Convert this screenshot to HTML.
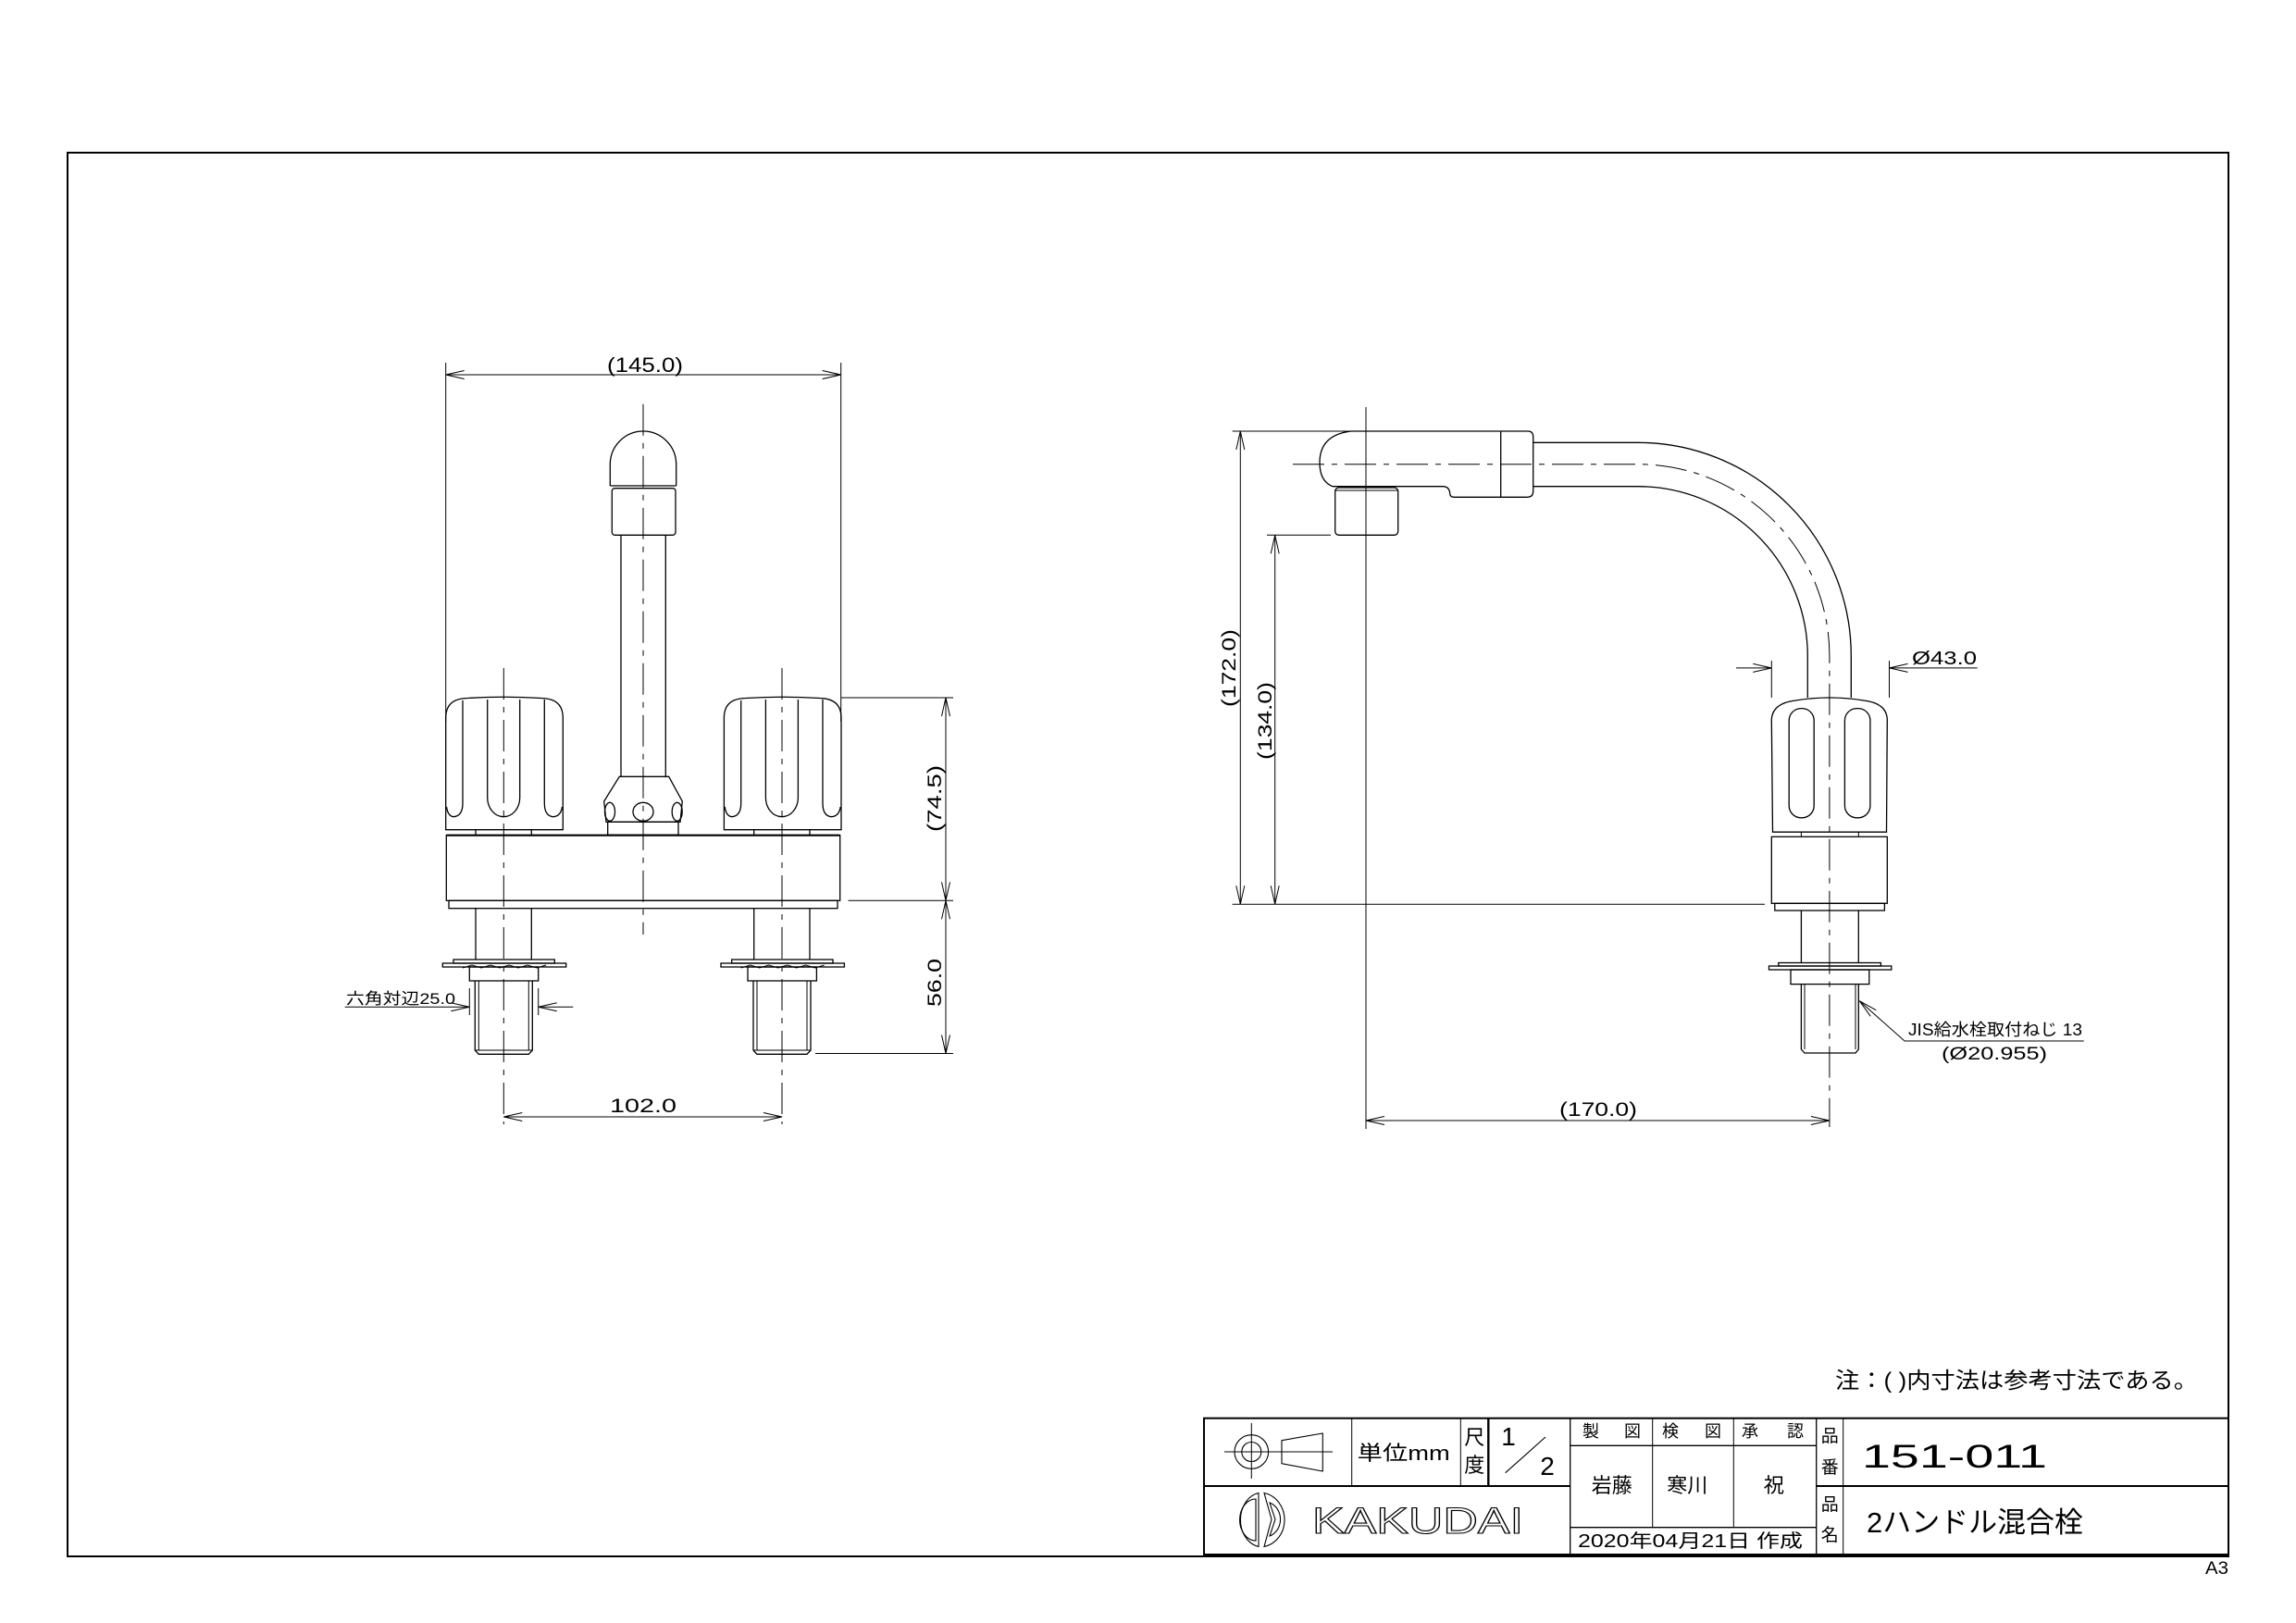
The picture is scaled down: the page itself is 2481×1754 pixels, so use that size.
<!DOCTYPE html>
<html><head><meta charset="utf-8"><style>
html,body{margin:0;padding:0;background:#fff;}
svg{display:block;}
text{font-family:"Liberation Sans","Noto Sans CJK JP",sans-serif;fill:#000;}
</style></head><body>
<svg width="2481" height="1754" viewBox="0 0 2481 1754" xmlns="http://www.w3.org/2000/svg">
<defs>
<marker id="a" markerUnits="userSpaceOnUse" markerWidth="40" markerHeight="20" viewBox="-22 -10 24 20" refX="0" refY="0" orient="auto-start-reverse">
<path d="M-20,-4.5 L0,0 L-20,4.5" fill="none" stroke="#000" stroke-width="1"/>
</marker>
</defs>
<g fill="none" stroke="#000" stroke-width="1.3">
<rect x="73" y="165" width="2335" height="1517" stroke-width="2"/>

<!-- FRONT VIEW -->
<line x1="481.7" y1="405" x2="908.7" y2="405" marker-start="url(#a)" marker-end="url(#a)" stroke-width="1"/>
<line x1="481.7" y1="392" x2="481.7" y2="780" stroke-width="1"/>
<line x1="908.7" y1="392" x2="908.7" y2="780" stroke-width="1"/>
<line x1="695" y1="436.7" x2="695" y2="1010" stroke-width="1" stroke-dasharray="34 8 6 8"/>
<path d="M659.3,525 L659.3,502 A35.7,36 0 0 1 730.7,502 L730.7,525"/>
<line x1="659.3" y1="525" x2="730.7" y2="525"/>
<rect x="661.3" y="527.7" width="68.7" height="50.6" rx="3"/>
<line x1="671" y1="578.3" x2="671" y2="839.3"/>
<line x1="719.3" y1="578.3" x2="719.3" y2="839.3"/>
<path d="M669.3,839.3 L722.7,839.3 L737.3,866 L735,888.3 L655,888.3 L652.7,866 Z"/>
<ellipse cx="695" cy="877.3" rx="11" ry="10"/>
<ellipse cx="659" cy="877.3" rx="5.5" ry="10"/>
<ellipse cx="731.7" cy="877.3" rx="5.5" ry="10"/>
<rect x="656.7" y="888.3" width="76.3" height="14"/>
<g id="knob">
<path d="M481.7,896.7 L481.7,775 Q482,755 505,754.5 Q545,752 585,754.5 Q608,755 608.3,775 L608.3,896.7 Z"/>
<path d="M500,757 L500,868 Q500,882 490,882.7 Q484,882 482.5,872"/>
<path d="M526.7,756 L526.7,862 A17.5,20.7 0 0 0 561.7,862 L561.7,756"/>
<path d="M588.3,756 L588.3,868 Q588.3,882 598,882.7 Q606,882 607.5,872"/>
<line x1="514" y1="896.7" x2="514" y2="902.7"/>
<line x1="574.3" y1="896.7" x2="574.3" y2="902.7"/>
</g>
<use href="#knob" transform="translate(300.7,0)"/>
<rect x="482.3" y="902.7" width="425.4" height="70.6"/>
<line x1="482.3" y1="902.7" x2="907.7" y2="902.7" stroke-width="2.2"/>
<rect x="485" y="973.3" width="420" height="8.4"/>
<g id="shank">
<line x1="514" y1="981.7" x2="514" y2="1037"/>
<line x1="574.3" y1="981.7" x2="574.3" y2="1037"/>
<rect x="490" y="1037" width="109.3" height="4"/>
<rect x="478.3" y="1041" width="133.4" height="4"/>
<path d="M500,1046 L510,1043 L520,1046 L530,1043 L540,1046 L550,1043 L560,1046 L570,1043 L580,1046 L590,1043" stroke-width="1"/>
<rect x="507.3" y="1045" width="74.4" height="15"/>
<path d="M513.3,1060 L513.3,1135 L517.3,1139.3 L571.3,1139.3 L575.3,1135 L575.3,1060"/>
<line x1="517.3" y1="1060" x2="517.3" y2="1135" stroke-width="1"/>
<line x1="571.3" y1="1060" x2="571.3" y2="1135" stroke-width="1"/>
<line x1="513.3" y1="1135" x2="575.3" y2="1135" stroke-width="1"/>
</g>
<use href="#shank" transform="translate(300.7,0)"/>
<line x1="544.3" y1="722" x2="544.3" y2="1215" stroke-width="1" stroke-dasharray="34 8 6 8"/>
<line x1="845" y1="722" x2="845" y2="1215" stroke-width="1" stroke-dasharray="34 8 6 8"/>
<line x1="544.3" y1="1207" x2="845" y2="1207" marker-start="url(#a)" marker-end="url(#a)" stroke-width="1"/>
<line x1="372.7" y1="1088.3" x2="507.3" y2="1088.3" marker-end="url(#a)" stroke-width="1"/>
<line x1="619.3" y1="1088.3" x2="581.7" y2="1088.3" marker-end="url(#a)" stroke-width="1"/>
<line x1="507.3" y1="1068" x2="507.3" y2="1097" stroke-width="1"/>
<line x1="581.7" y1="1068" x2="581.7" y2="1097" stroke-width="1"/>
<line x1="908.7" y1="754" x2="1030" y2="754" stroke-width="1"/>
<line x1="916.5" y1="973.3" x2="1030" y2="973.3" stroke-width="1"/>
<line x1="881" y1="1138.5" x2="1030" y2="1138.5" stroke-width="1"/>
<line x1="1022" y1="754" x2="1022" y2="973.3" marker-start="url(#a)" marker-end="url(#a)" stroke-width="1"/>
<line x1="1022" y1="973.3" x2="1022" y2="1138.5" marker-start="url(#a)" marker-end="url(#a)" stroke-width="1"/>

<!-- SIDE VIEW -->
<line x1="1476" y1="440" x2="1476" y2="1220" stroke-width="1"/>
<path d="M1460,466 L1651,466 Q1656.7,466 1656.7,472 L1656.7,531 Q1656.7,537.3 1650,537.3 L1571,537.3 Q1566.7,537.3 1566.7,533 Q1566,525.7 1559,525.7 L1440,525.7 Q1426,520 1426,500 Q1426,470 1460,466 Z"/>
<line x1="1621.7" y1="466" x2="1621.7" y2="537.3"/>
<rect x="1442.7" y="527" width="68" height="51.3" rx="4"/>
<line x1="1442.7" y1="530" x2="1510.7" y2="530" stroke-width="1"/>
<path d="M1656.7,478.3 L1769.9,478.3 A230.4,230.4 0 0 1 2000.3,708.7 L2000.3,754"/>
<path d="M1656.7,525.7 L1769.9,525.7 A183.4,183.4 0 0 1 1953.3,709.1 L1953.3,754"/>
<path d="M1397,501.7 L1769.9,501.7 A207,207 0 0 1 1976.9,708.7 L1976.9,1218" stroke-width="1" stroke-dasharray="34 8 6 8"/>
<path d="M1915.5,899.2 L1914.3,778 Q1915,760 1940,757 Q1977,751 2014,757 Q2039,760 2039.3,778 L2038.5,899.2 Z"/>
<rect x="1933.2" y="765.6" width="27" height="118.2" rx="13"/>
<rect x="1993.4" y="765.6" width="27.5" height="118.2" rx="13"/>
<line x1="1946.4" y1="899.2" x2="1946.4" y2="904.3" stroke-width="1"/>
<line x1="2008.3" y1="899.2" x2="2008.3" y2="904.3" stroke-width="1"/>
<rect x="1914.3" y="904.3" width="125" height="72"/>
<rect x="1917.8" y="976.3" width="118.6" height="7.7"/>
<line x1="1946.4" y1="984" x2="1946.4" y2="1040.5"/>
<line x1="2008.3" y1="984" x2="2008.3" y2="1040.5"/>
<rect x="1921.8" y="1040.5" width="110.6" height="3.5"/>
<rect x="1911.5" y="1044" width="132.3" height="4"/>
<rect x="1935" y="1048" width="84.8" height="15.6"/>
<path d="M1946.4,1063.6 L1946.4,1134 L1950,1138 L2005,1138 L2008.3,1134 L2008.3,1063.6"/>
<line x1="1950" y1="1063.6" x2="1950" y2="1134" stroke-width="1"/>
<line x1="2005" y1="1063.6" x2="2005" y2="1134" stroke-width="1"/>
<line x1="1331.7" y1="466" x2="1460" y2="466" stroke-width="1"/>
<line x1="1340.3" y1="466" x2="1340.3" y2="977.2" marker-start="url(#a)" marker-end="url(#a)" stroke-width="1"/>
<line x1="1369" y1="578.3" x2="1438" y2="578.3" stroke-width="1"/>
<line x1="1377.7" y1="578.3" x2="1377.7" y2="977.2" marker-start="url(#a)" marker-end="url(#a)" stroke-width="1"/>
<line x1="1331.7" y1="977.2" x2="1907" y2="977.2" stroke-width="1"/>
<line x1="1876" y1="721.9" x2="1914.3" y2="721.9" marker-end="url(#a)" stroke-width="1"/>
<line x1="2136.7" y1="721.9" x2="2041.5" y2="721.9" marker-end="url(#a)" stroke-width="1"/>
<line x1="1914.3" y1="714" x2="1914.3" y2="754" stroke-width="1"/>
<line x1="2041.5" y1="714" x2="2041.5" y2="754" stroke-width="1"/>
<path d="M2058,1125 L2009.3,1081.7" marker-end="url(#a)" stroke-width="1"/>
<line x1="2058" y1="1125" x2="2251.7" y2="1125" stroke-width="1"/>
<line x1="1476" y1="1211" x2="1976.9" y2="1211" marker-start="url(#a)" marker-end="url(#a)" stroke-width="1"/>

<!-- TITLE BLOCK -->
<rect x="1301" y="1532.7" width="1107" height="147.3" stroke-width="2"/>
<line x1="1301" y1="1606" x2="1696.7" y2="1606" stroke-width="2"/>
<line x1="1962.7" y1="1606" x2="2408" y2="1606" stroke-width="2"/>
<line x1="1460.7" y1="1532.7" x2="1460.7" y2="1606" stroke-width="1"/>
<line x1="1578.3" y1="1532.7" x2="1578.3" y2="1606" stroke-width="1"/>
<line x1="1608.3" y1="1532.7" x2="1608.3" y2="1606" stroke-width="2.4"/>
<line x1="1696.7" y1="1532.7" x2="1696.7" y2="1680" stroke-width="1.3"/>
<line x1="1785.7" y1="1532.7" x2="1785.7" y2="1650.7" stroke-width="1"/>
<line x1="1873.3" y1="1532.7" x2="1873.3" y2="1650.7" stroke-width="1"/>
<line x1="1962.7" y1="1532.7" x2="1962.7" y2="1680" stroke-width="1.3"/>
<line x1="1991.7" y1="1532.7" x2="1991.7" y2="1680" stroke-width="1"/>
<line x1="1696.7" y1="1562.3" x2="1962.7" y2="1562.3" stroke-width="1.3"/>
<line x1="1696.7" y1="1650.7" x2="1962.7" y2="1650.7" stroke-width="1.3"/>
<circle cx="1352.3" cy="1569" r="18.3" stroke-width="1.1"/>
<circle cx="1352.3" cy="1569" r="10.5" stroke-width="1.1"/>
<line x1="1323" y1="1569" x2="1380" y2="1569" stroke-width="1"/>
<line x1="1352.3" y1="1538" x2="1352.3" y2="1598" stroke-width="1"/>
<path d="M1385,1556.7 L1429.3,1549 L1429.3,1590 L1385,1581.7 Z" stroke-width="1.1"/>
<line x1="1375" y1="1569" x2="1440" y2="1569" stroke-width="1"/>
<line x1="1626.7" y1="1591.7" x2="1670" y2="1553" stroke-width="1.1"/>
<path d="M1360,1613.5 A24,29.5 0 0 0 1360,1671.5 Z" stroke-width="1.1"/>
<path d="M1357,1620 A17,22 0 0 0 1357,1665 Z" stroke-width="1.1"/>
<path d="M1366,1613.5 A27,29.5 0 0 1 1366,1671.5 L1374,1642 Z" stroke-width="1.1"/>
<path d="M1372,1624 A17,19 0 0 1 1372,1660 L1378,1642 Z" stroke-width="1.1"/>
</g>

<!-- TEXT -->
<text x="697" y="402" font-size="22" text-anchor="middle" textLength="82" lengthAdjust="spacingAndGlyphs">(145.0)</text>
<text x="695" y="1202" font-size="21" text-anchor="middle" textLength="72" lengthAdjust="spacingAndGlyphs">102.0</text>
<text x="374" y="1085" font-size="17" textLength="118" lengthAdjust="spacingAndGlyphs">六角対辺25.0</text>
<text transform="translate(1017,863) rotate(-90)" font-size="21" text-anchor="middle" textLength="72" lengthAdjust="spacingAndGlyphs">(74.5)</text>
<text transform="translate(1017,1062) rotate(-90)" font-size="21" text-anchor="middle" textLength="52" lengthAdjust="spacingAndGlyphs">56.0</text>
<text transform="translate(1335,722) rotate(-90)" font-size="21" text-anchor="middle" textLength="84" lengthAdjust="spacingAndGlyphs">(172.0)</text>
<text transform="translate(1374,779) rotate(-90)" font-size="21" text-anchor="middle" textLength="84" lengthAdjust="spacingAndGlyphs">(134.0)</text>
<text x="1727" y="1206" font-size="21" text-anchor="middle" textLength="84" lengthAdjust="spacingAndGlyphs">(170.0)</text>
<text x="2066" y="718" font-size="20" textLength="70" lengthAdjust="spacingAndGlyphs">Ø43.0</text>
<text x="2062" y="1119" font-size="18" textLength="188" lengthAdjust="spacingAndGlyphs">JIS給水栓取付ねじ 13</text>
<text x="2098" y="1145" font-size="19" textLength="114" lengthAdjust="spacingAndGlyphs">(Ø20.955)</text>
<text x="1983" y="1500" font-size="24" textLength="392" lengthAdjust="spacingAndGlyphs">注：(  )内寸法は参考寸法である。</text>
<text x="2383" y="1701" font-size="19" textLength="25" lengthAdjust="spacingAndGlyphs">A3</text>

<text x="1466.7" y="1578" font-size="22" textLength="100" lengthAdjust="spacingAndGlyphs">単位mm</text>
<text x="1593.3" y="1561" font-size="22" text-anchor="middle">尺</text>
<text x="1593.3" y="1591" font-size="22" text-anchor="middle">度</text>
<text x="1630" y="1562" font-size="28" text-anchor="middle">1</text>
<text x="1672" y="1594" font-size="28" text-anchor="middle">2</text>
<text x="1418" y="1657" font-size="40" textLength="228" lengthAdjust="spacingAndGlyphs" style="fill:#fff;stroke:#000;stroke-width:1.1">KAKUDAI</text>

<text x="1719" y="1553" font-size="18" text-anchor="middle">製</text>
<text x="1764" y="1553" font-size="18" text-anchor="middle">図</text>
<text x="1805" y="1553" font-size="18" text-anchor="middle">検</text>
<text x="1851" y="1553" font-size="18" text-anchor="middle">図</text>
<text x="1891" y="1553" font-size="18" text-anchor="middle">承</text>
<text x="1940" y="1553" font-size="18" text-anchor="middle">認</text>
<text x="1741.7" y="1613" font-size="22" text-anchor="middle">岩藤</text>
<text x="1823.3" y="1613" font-size="22" text-anchor="middle">寒川</text>
<text x="1916.7" y="1613" font-size="22" text-anchor="middle">祝</text>
<text x="1705" y="1672" font-size="20" textLength="243" lengthAdjust="spacingAndGlyphs">2020年04月21日 作成</text>
<text x="1977.3" y="1558" font-size="19" text-anchor="middle">品</text>
<text x="1977.3" y="1592" font-size="19" text-anchor="middle">番</text>
<text x="1977.3" y="1632" font-size="19" text-anchor="middle">品</text>
<text x="1977.3" y="1665" font-size="19" text-anchor="middle">名</text>
<text x="2012" y="1586" font-size="35" textLength="200" lengthAdjust="spacingAndGlyphs">151-011</text>
<text x="2017" y="1656" font-size="31" textLength="234" lengthAdjust="spacingAndGlyphs">2ハンドル混合栓</text>
</svg>
</body></html>
